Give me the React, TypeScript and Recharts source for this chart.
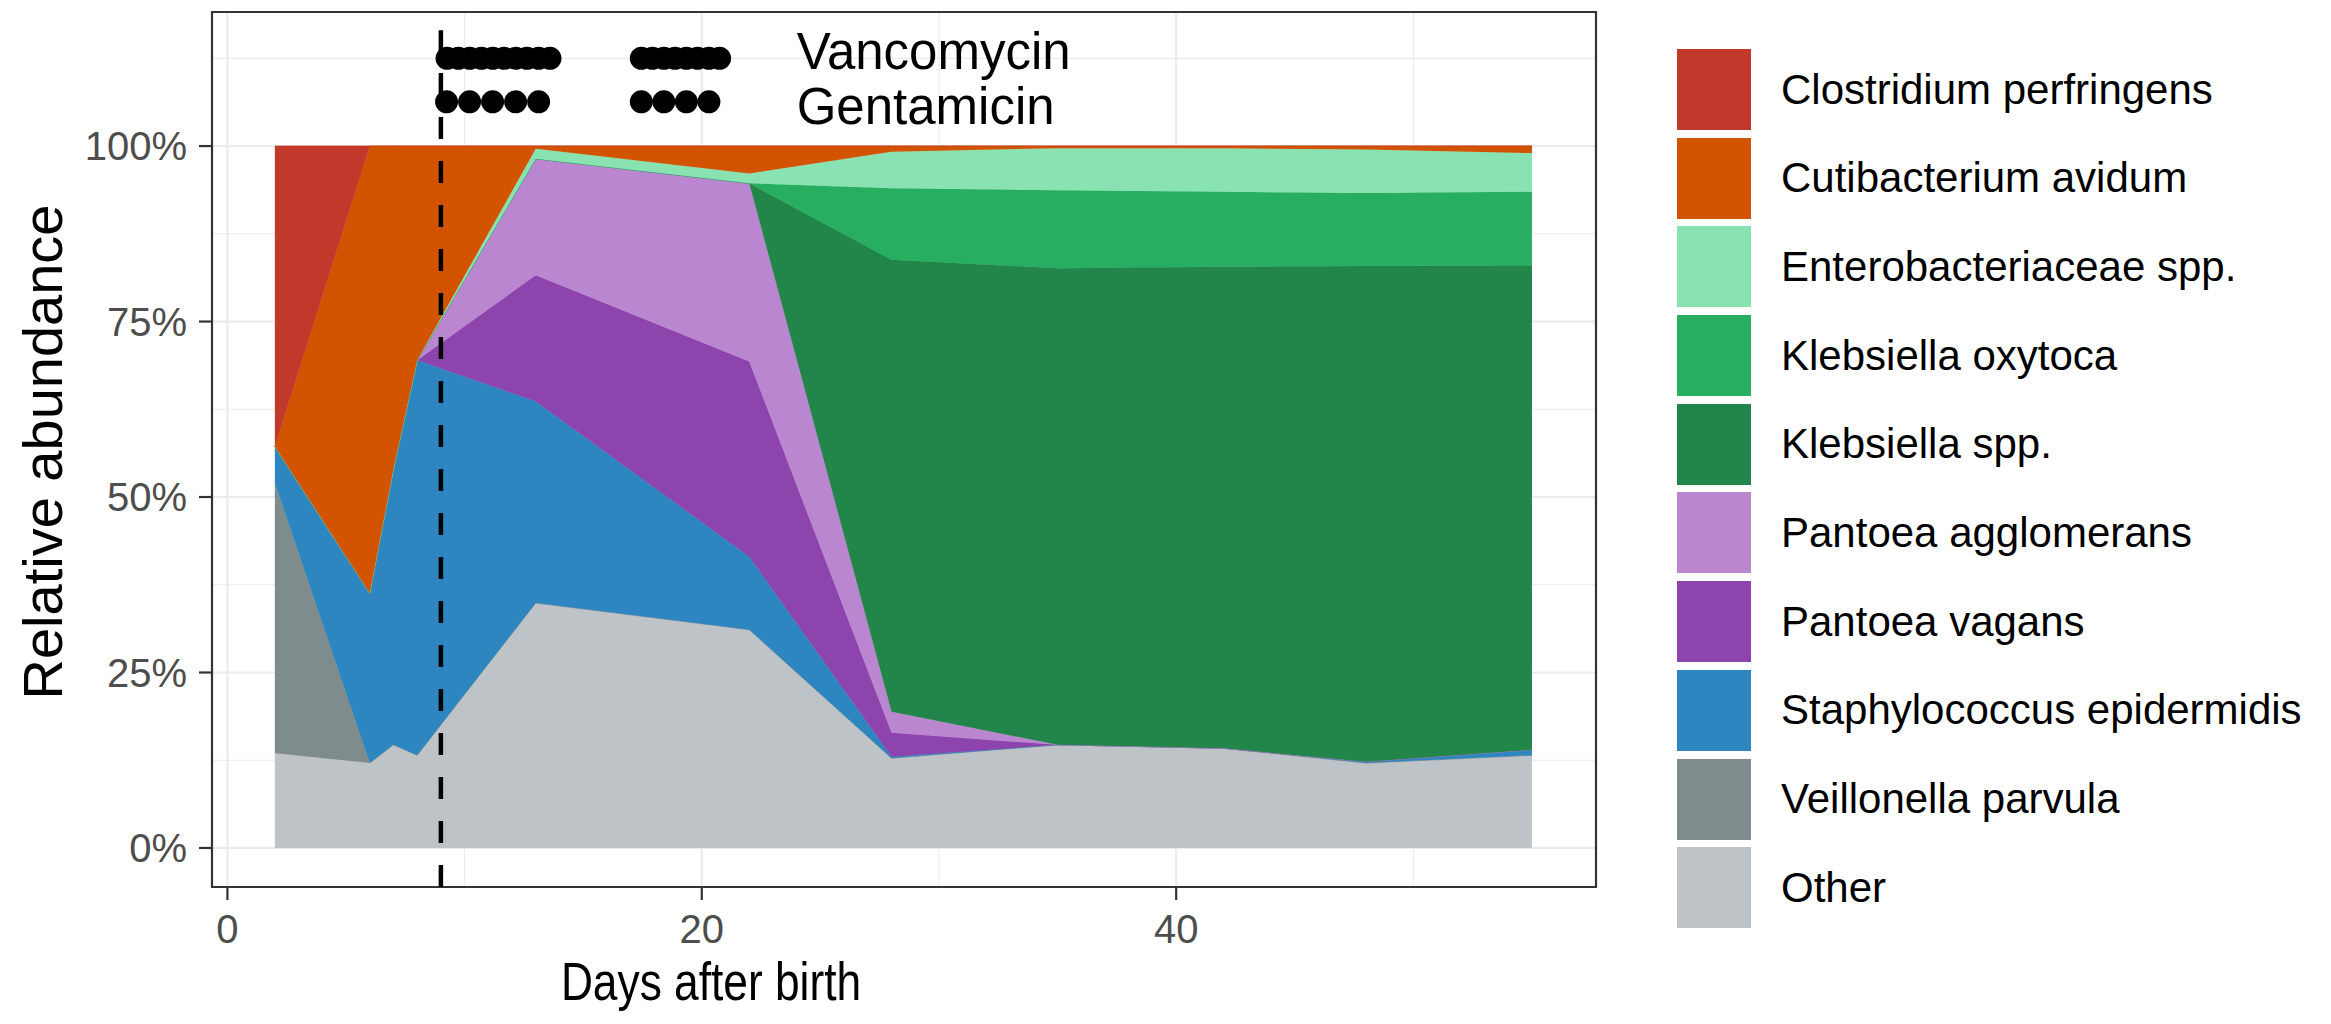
import React from "react";
import {
  ComposedChart,
  Area,
  Scatter,
  XAxis,
  YAxis,
  CartesianGrid,
  ReferenceLine,
  ReferenceArea,
  ReferenceDot,
} from "recharts";

const FONT = '"Liberation Sans", Arial, Helvetica, sans-serif';

// sampling days
const days = [2, 6, 7, 8, 13, 22, 28, 35, 42, 48, 55];

// relative abundance (%) per taxon, stacked bottom -> top
const other = [13.5, 12.1, 14.7, 13.2, 34.9, 31.1, 12.8, 14.7, 14.2, 12.1, 13.2];
const veillonella = [38.5, 0, 0, 0, 0, 0, 0, 0, 0, 0, 0];
const staph = [5.2, 24.2, 39.3, 56.3, 28.7, 10.4, 0.2, 0, 0, 0.2, 0.8];
const pVagans = [0, 0, 0, 0, 18.0, 27.8, 3.4, 0, 0, 0, 0];
const pAgglo = [0, 0, 0, 0, 16.6, 25.4, 3.0, 0, 0, 0, 0];
const klebSpp = [0, 0, 0, 0, 0, 0, 64.4, 67.9, 68.6, 70.6, 69.0];
const klebOxy = [0, 0, 0, 0, 0, 0, 10.2, 11.1, 10.7, 10.4, 10.5];
const entero = [0, 0, 0, 0, 1.4, 1.4, 5.2, 6.0, 6.2, 6.2, 5.5];
const cuti = [0, 63.7, 46.0, 30.5, 0.4, 3.9, 0.8, 0.3, 0.3, 0.5, 1.0];
const clost = [42.8, 0, 0, 0, 0, 0, 0, 0, 0, 0, 0];

// antibiotic doses (days after birth)
const vancoDays = [9.26, 9.74, 10.22, 10.71, 11.19, 11.67, 12.15, 12.63, 13.12, 13.6, 17.45, 17.92, 18.4, 18.87, 19.35, 19.82, 20.3, 20.75];
const gentaDays = [9.24, 10.21, 11.18, 12.15, 13.12, 17.45, 18.4, 19.35, 20.3];
const vancoLevel = 112.5;
const gentaLevel = 106.3;
const treatmentStart = 9;

const xTicks = [0, 20, 40];
const yTicks = [0, 25, 50, 75, 100];
const xMinor = [10, 30, 50];
const yMinor = [12.5, 37.5, 62.5, 87.5, 112.5];

const series = [
  { key: "other", name: "Other", color: "#BDC3C7", values: other },
  { key: "veillonella", name: "Veillonella parvula", color: "#7F8C8D", values: veillonella },
  { key: "staph", name: "Staphylococcus epidermidis", color: "#2E86C1", values: staph },
  { key: "pVagans", name: "Pantoea vagans", color: "#8E44AD", values: pVagans },
  { key: "pAgglo", name: "Pantoea agglomerans", color: "#BB86D0", values: pAgglo },
  { key: "klebSpp", name: "Klebsiella spp.", color: "#22864A", values: klebSpp },
  { key: "klebOxy", name: "Klebsiella oxytoca", color: "#27AE60", values: klebOxy },
  { key: "entero", name: "Enterobacteriaceae spp.", color: "#88E2B2", values: entero },
  { key: "cuti", name: "Cutibacterium avidum", color: "#D35400", values: cuti },
  { key: "clost", name: "Clostridium perfringens", color: "#C0392B", values: clost },
];

const data = days.map((d, i) => {
  const row: Record<string, number> = { day: d };
  series.forEach((s) => (row[s.key] = s.values[i]));
  return row;
});

const vancoPoints = vancoDays.map((d) => ({ day: d, level: vancoLevel }));
const gentaPoints = gentaDays.map((d) => ({ day: d, level: gentaLevel }));

const X_DOMAIN = [-0.65, 57.7];
const Y_DOMAIN = [-5.56, 119.1];

const dot = (p: any) => <circle cx={p.cx} cy={p.cy} r={11.5} fill="#000" />;

const annotation = (text: string, dy: number) => (p: any) => (
  <text x={p.viewBox.x} y={p.viewBox.y + dy} fontSize={51} fontFamily={FONT} fill="#000">
    {text}
  </text>
);

export default function App() {
  const tickStyle = { fill: "#4D4D4D", fontSize: 40, fontFamily: FONT };
  return (
    <div style={{ position: "absolute", left: 0, top: 0, width: 2331, height: 1024, background: "#fff" }}>
      <ComposedChart
        width={2331}
        height={1024}
        data={data}
        margin={{ top: 12, right: 735, bottom: 77, left: 92 }}
      >
        <CartesianGrid verticalValues={xMinor} horizontalValues={yMinor} stroke="#EBEBEB" strokeWidth={1.1} />
        <CartesianGrid verticalValues={xTicks} horizontalValues={yTicks} stroke="#EBEBEB" strokeWidth={2.2} />
        <XAxis
          dataKey="day"
          type="number"
          domain={X_DOMAIN}
          allowDataOverflow
          ticks={xTicks}
          height={60}
          tickSize={13}
          tickMargin={15}
          axisLine={false}
          tickLine={{ stroke: "#333", strokeWidth: 2.2 }}
          tick={tickStyle}
        />
        <YAxis
          type="number"
          domain={Y_DOMAIN}
          allowDataOverflow
          ticks={yTicks}
          width={120}
          tickSize={13}
          tickMargin={12}
          axisLine={false}
          tickLine={{ stroke: "#333", strokeWidth: 2.2 }}
          tick={tickStyle}
          tickFormatter={(v) => `${v}%`}
        />
        {series.map((s) => (
          <Area
            key={s.key}
            dataKey={s.key}
            name={s.name}
            stackId="taxa"
            type="linear"
            fill={s.color}
            fillOpacity={1}
            stroke={s.color}
            strokeWidth={0.8}
            isAnimationActive={false}
          />
        ))}
        <ReferenceLine
          segment={[
            { x: treatmentStart, y: Y_DOMAIN[0] },
            { x: treatmentStart, y: 116.5 },
          ]}
          stroke="#000"
          strokeWidth={4.5}
          strokeDasharray="22 22"
        />
        <Scatter data={vancoPoints} dataKey="level" shape={dot} isAnimationActive={false} />
        <Scatter data={gentaPoints} dataKey="level" shape={dot} isAnimationActive={false} />
        <ReferenceDot x={24.0} y={vancoLevel} r={0} stroke="none" label={annotation("Vancomycin", 11)} />
        <ReferenceDot x={24.0} y={gentaLevel} r={0} stroke="none" label={annotation("Gentamicin", 22)} />
        <ReferenceArea
          x1={X_DOMAIN[0]}
          x2={X_DOMAIN[1]}
          y1={Y_DOMAIN[0]}
          y2={Y_DOMAIN[1]}
          fill="none"
          stroke="#333"
          strokeWidth={2.2}
          ifOverflow="visible"
        />
      </ComposedChart>

      <div
        style={{
          position: "absolute",
          left: 42,
          top: 452,
          transform: "translate(-50%, -50%) rotate(-90deg)",
          whiteSpace: "nowrap",
          fontFamily: FONT,
          fontSize: 56,
          color: "#000",
        }}
      >
        Relative abundance
      </div>
      <div
        style={{
          position: "absolute",
          left: 711,
          top: 981,
          transform: "translate(-50%, -50%) scaleX(0.82)",
          whiteSpace: "nowrap",
          fontFamily: FONT,
          fontSize: 54,
          color: "#000",
        }}
      >
        Days after birth
      </div>

      <div style={{ position: "absolute", left: 1677, top: 49, fontFamily: FONT }}>
        {[...series].reverse().map((s) => (
          <div key={s.key} style={{ display: "flex", alignItems: "center", height: 81, marginBottom: 7.7 }}>
            <div style={{ width: 74, height: 81, background: s.color }} />
            <span style={{ marginLeft: 30, fontSize: 42, color: "#000", whiteSpace: "nowrap" }}>{s.name}</span>
          </div>
        ))}
      </div>
    </div>
  );
}
